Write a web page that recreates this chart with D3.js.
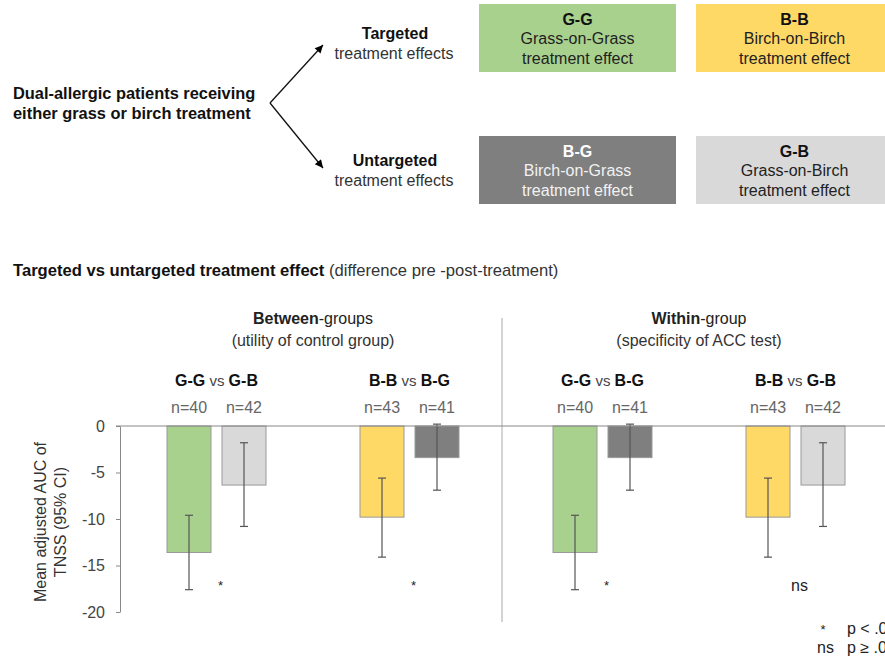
<!DOCTYPE html>
<html>
<head>
<meta charset="utf-8">
<title>Targeted vs untargeted treatment effect</title>
<script src="https://cdn.jsdelivr.net/npm/d3@7"></script>
<style>
  body { margin: 0; background: #fff; }
  svg { display: block; font-family: "Liberation Sans", Arial, sans-serif; }
</style>
</head>
<body>
<svg id="chart" width="885" height="658"></svg>
<script>
// Chart data
const comparisons = ['G-G vs G-B', 'B-B vs B-G', 'G-G vs B-G', 'B-B vs G-B'];
const leftArm = ['G-G', 'B-B', 'G-G', 'B-B'];
const rightArm = ['G-B', 'B-G', 'B-G', 'G-B'];
const leftN = [40, 43, 40, 43];
const rightN = [42, 41, 41, 42];
const leftMean = [-13.6, -9.8, -13.6, -9.8];
const rightMean = [-6.35, -3.4, -3.4, -6.35];
const leftCiLow = [-17.6, -14.1, -17.6, -14.1];
const leftCiHigh = [-9.6, -5.6, -9.6, -5.6];
const rightCiLow = [-10.8, -6.9, -6.9, -10.8];
const rightCiHigh = [-1.8, 0.2, 0.2, -1.8];
const significance = ['*', '*', '*', 'ns'];
const yTicks = [0, -5, -10, -15, -20];

const effectColors = {
  'G-G': '#a9d18e',
  'B-B': '#ffd966',
  'B-G': '#7f7f7f',
  'G-B': '#d9d9d9'
};

document.addEventListener('DOMContentLoaded', function() {
  const svg = d3.select('#chart');
  drawDiagram(svg);
  drawChart(svg);
});

function drawDiagram(svg) {
  // arrow head marker
  svg.append('defs').append('marker')
    .attr('id', 'arrow')
    .attr('viewBox', '0 0 10 10')
    .attr('refX', 10).attr('refY', 5)
    .attr('markerWidth', 10).attr('markerHeight', 8)
    .attr('markerUnits', 'userSpaceOnUse')
    .attr('orient', 'auto')
    .append('path').attr('d', 'M0,0L10,5L0,10Z').attr('fill', '#000');

  const left = svg.append('text').attr('font-size', 16.4).attr('font-weight', 'bold').attr('fill', '#111');
  left.append('tspan').attr('x', 13).attr('y', 99).text('Dual-allergic patients receiving');
  left.append('tspan').attr('x', 13).attr('y', 119).text('either grass or birch treatment');

  svg.append('line').attr('x1', 270).attr('y1', 103).attr('x2', 323).attr('y2', 45)
    .attr('stroke', '#111').attr('stroke-width', 1.3).attr('marker-end', 'url(#arrow)');
  svg.append('line').attr('x1', 270).attr('y1', 103).attr('x2', 323).attr('y2', 168)
    .attr('stroke', '#111').attr('stroke-width', 1.3).attr('marker-end', 'url(#arrow)');

  [['Targeted', 39], ['Untargeted', 166]].forEach(([label, y]) => {
    const t = svg.append('text').attr('text-anchor', 'middle').attr('font-size', 16).attr('fill', '#111');
    t.append('tspan').attr('x', 395).attr('y', y).attr('font-weight', 'bold').text(label);
    t.append('tspan').attr('x', 394).attr('y', y + 20).attr('fill', '#333').text('treatment effects');
  });

  const boxes = [
    { code: 'G-G', name: 'Grass-on-Grass', x: 479, y: 4 },
    { code: 'B-B', name: 'Birch-on-Birch', x: 696, y: 4 },
    { code: 'B-G', name: 'Birch-on-Grass', x: 479, y: 136 },
    { code: 'G-B', name: 'Grass-on-Birch', x: 696, y: 136 }
  ];
  boxes.forEach(b => {
    const g = svg.append('g').attr('transform', `translate(${b.x},${b.y})`);
    g.append('rect').attr('width', 197).attr('height', 68).attr('fill', effectColors[b.code]);
    const light = b.code === 'B-G';
    const t = g.append('text').attr('text-anchor', 'middle').attr('font-size', 16)
      .attr('fill', light ? '#f2f2f2' : '#222');
    t.append('tspan').attr('x', 98.5).attr('y', 21).attr('font-weight', 'bold')
      .attr('fill', light ? '#fff' : '#111').text(b.code);
    t.append('tspan').attr('x', 98.5).attr('y', 40).text(b.name);
    t.append('tspan').attr('x', 98.5).attr('y', 60).text('treatment effect');
  });
}

function drawChart(svg) {
  const title = svg.append('text').attr('x', 13).attr('y', 276).attr('font-size', 16.6).attr('fill', '#111');
  title.append('tspan').attr('font-weight', 'bold').text('Targeted vs untargeted treatment effect');
  title.append('tspan').attr('fill', '#333').text(' (difference pre -post-treatment)');

  const x = d3.scaleBand().domain(comparisons).range([120, 892]);
  const y = d3.scaleLinear().domain([-20, 0]).range([612, 426]);
  const inner = d3.scaleBand().domain(['left', 'right']).range([-55, 55]).paddingInner(0.2).paddingOuter(0.1);

  // y axis
  const yAxis = svg.append('g').attr('transform', 'translate(120,0)')
    .call(d3.axisLeft(y).tickValues(yTicks).tickFormat(d => String(d)).tickSize(4).tickSizeOuter(0));
  yAxis.select('.domain').attr('stroke', '#888');
  yAxis.selectAll('.tick line').attr('stroke', '#888');
  yAxis.selectAll('.tick text').attr('font-size', 16).attr('fill', '#444')
    .attr('font-family', '"Liberation Sans", Arial, sans-serif').attr('x', -15);

  const yl = svg.append('text').attr('transform', 'translate(46,522) rotate(-90)')
    .attr('text-anchor', 'middle').attr('font-size', 16).attr('fill', '#333');
  yl.append('tspan').attr('x', 0).attr('y', 0).text('Mean adjusted AUC of');
  yl.append('tspan').attr('x', 0).attr('y', 20).text('TNSS (95% CI)');

  // divider between the two panels
  const mid = x(comparisons[2]) - 4;
  svg.append('line').attr('x1', mid).attr('x2', mid).attr('y1', 318).attr('y2', 622)
    .attr('stroke', '#aaa').attr('stroke-width', 1);

  // panel headers
  const panels = [
    { bold: 'Between', rest: '-groups', sub: '(utility of control group)', items: comparisons.slice(0, 2) },
    { bold: 'Within', rest: '-group', sub: '(specificity of ACC test)', items: comparisons.slice(2, 4) }
  ];
  panels.forEach(p => {
    const cx = (x(p.items[0]) + x(p.items[1]) + x.bandwidth()) / 2;
    const t = svg.append('text').attr('text-anchor', 'middle').attr('font-size', 16).attr('fill', '#222');
    const l1 = t.append('tspan').attr('x', cx).attr('y', 324);
    l1.append('tspan').attr('font-weight', 'bold').text(p.bold);
    l1.append('tspan').text(p.rest);
    t.append('tspan').attr('x', cx).attr('y', 346).attr('fill', '#333').text(p.sub);
  });

  const groups = svg.append('g').selectAll('g')
    .data(comparisons.map((c, i) => ({ c, i })))
    .join('g')
    .attr('transform', d => `translate(${x(d.c) + x.bandwidth() / 2},0)`);

  // comparison label, e.g. G-G vs G-B
  const lab = groups.append('text').attr('text-anchor', 'middle').attr('y', 386)
    .attr('font-size', 16).attr('fill', '#111');
  lab.append('tspan').attr('font-weight', 'bold').text(d => leftArm[d.i]);
  lab.append('tspan').attr('fill', '#444').attr('font-size', 15).text(' vs ');
  lab.append('tspan').attr('font-weight', 'bold').text(d => rightArm[d.i]);

  const bars = groups.selectAll('g.bar')
    .data(d => [
      { side: 'left', arm: leftArm[d.i], n: leftN[d.i], mean: leftMean[d.i], lo: leftCiLow[d.i], hi: leftCiHigh[d.i] },
      { side: 'right', arm: rightArm[d.i], n: rightN[d.i], mean: rightMean[d.i], lo: rightCiLow[d.i], hi: rightCiHigh[d.i] }
    ])
    .join('g').attr('class', 'bar');

  bars.append('text')
    .attr('x', d => inner(d.side) + inner.bandwidth() / 2)
    .attr('y', 413).attr('text-anchor', 'middle').attr('font-size', 16).attr('fill', '#666')
    .text(d => 'n=' + d.n);

  bars.append('rect')
    .attr('x', d => inner(d.side))
    .attr('width', inner.bandwidth())
    .attr('y', y(0))
    .attr('height', d => y(d.mean) - y(0))
    .attr('fill', d => effectColors[d.arm])
    .attr('stroke', '#999').attr('stroke-width', 1);

  // 95% CI whiskers
  const cx = d => inner(d.side) + inner.bandwidth() / 2;
  bars.append('line').attr('x1', cx).attr('x2', cx)
    .attr('y1', d => y(d.hi)).attr('y2', d => y(d.lo))
    .attr('stroke', '#555').attr('stroke-width', 1.2);
  ['hi', 'lo'].forEach(k => {
    bars.append('line')
      .attr('x1', d => cx(d) - 4).attr('x2', d => cx(d) + 4)
      .attr('y1', d => y(d[k])).attr('y2', d => y(d[k]))
      .attr('stroke', '#555').attr('stroke-width', 1.2);
  });

  groups.append('text').attr('x', 4).attr('y', d => significance[d.i] === '*' ? 590 : 591)
    .attr('text-anchor', 'middle').attr('font-size', d => significance[d.i] === '*' ? 13 : 16)
    .attr('fill', '#222').text(d => significance[d.i]);

  // zero line across the plot
  svg.append('line').attr('x1', 116).attr('x2', 885).attr('y1', y(0)).attr('y2', y(0))
    .attr('stroke', '#888').attr('stroke-width', 1);

  // significance key (runs off the right edge as in the source figure)
  const key = svg.append('g').attr('font-size', 16).attr('fill', '#222');
  key.append('text').attr('x', 823).attr('y', 634).attr('text-anchor', 'middle').attr('font-size', 13).text('*');
  key.append('text').attr('x', 847).attr('y', 634).text('p < .05');
  key.append('text').attr('x', 817).attr('y', 653).text('ns');
  key.append('text').attr('x', 847).attr('y', 653).text('p \u2265 .05');
}
</script>
</body>
</html>
